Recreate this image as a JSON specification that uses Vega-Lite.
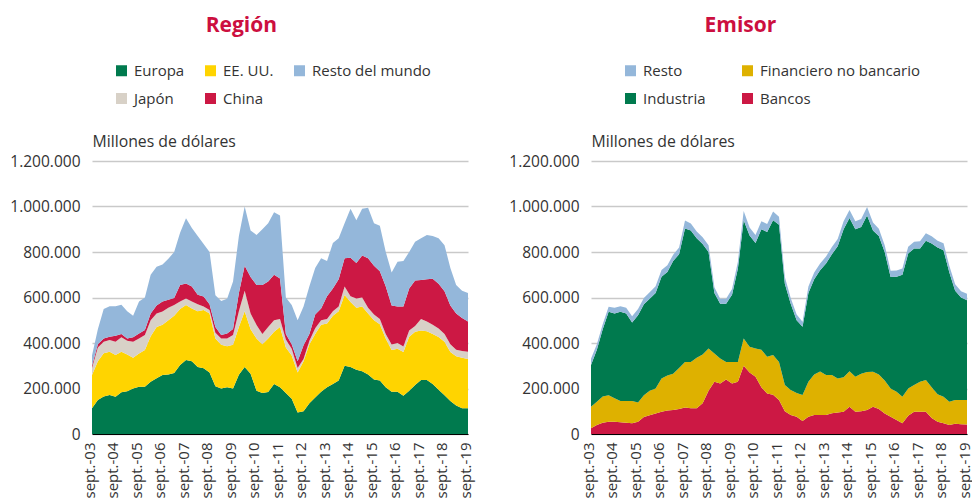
{
  "$schema": "https://vega.github.io/schema/vega-lite/v6.json",
  "padding": {"left": 9, "top": 15, "right": 0, "bottom": 0},
  "bounds": "flush",
  "spacing": 123,
  "config": {
    "locale": {"number": {"decimal": ",", "thousands": ".", "grouping": [3], "currency": ["", " €"]}},
    "font": "Open Sans",
    "view": {"stroke": null},
    "title": {"font": "Open Sans", "fontSize": 21, "fontWeight": "bold", "color": "#cc0f3f", "anchor": "middle", "frame": "bounds", "offset": 27},
    "axis": {"labelFont": "Open Sans", "labelFontSize": 15.5, "labelColor": "#333333", "ticks": false, "grid": false, "domain": false},
    "legend": {"labelFont": "Open Sans", "labelFontSize": 15, "labelColor": "#333333", "labelLimit": 400, "symbolType": "square", "symbolSize": 121, "symbolStrokeWidth": 0, "labelOffset": 5, "padding": 0}
  },
  "datasets": {
    "regionOrder": [{"s":"Europa","o":1},{"s":"EE. UU.","o":2},{"s":"Japón","o":3},{"s":"China","o":4},{"s":"Resto del mundo","o":5}],
    "emisorOrder": [{"s":"Bancos","o":1},{"s":"Financiero no bancario","o":2},{"s":"Industria","o":3},{"s":"Resto","o":4}],
    "region": [
{"d":"2003-09","s":"Europa","v":113000},{"d":"2003-09","s":"EE. UU.","v":146000},{"d":"2003-09","s":"Japón","v":31000},{"d":"2003-09","s":"China","v":10000},{"d":"2003-09","s":"Resto del mundo","v":45000},
{"d":"2003-12","s":"Europa","v":150000},{"d":"2003-12","s":"EE. UU.","v":170000},{"d":"2003-12","s":"Japón","v":60000},{"d":"2003-12","s":"China","v":15000},{"d":"2003-12","s":"Resto del mundo","v":65000},
{"d":"2004-03","s":"Europa","v":165000},{"d":"2004-03","s":"EE. UU.","v":190000},{"d":"2004-03","s":"Japón","v":50000},{"d":"2004-03","s":"China","v":15000},{"d":"2004-03","s":"Resto del mundo","v":130000},
{"d":"2004-06","s":"Europa","v":171000},{"d":"2004-06","s":"EE. UU.","v":191000},{"d":"2004-06","s":"Japón","v":51000},{"d":"2004-06","s":"China","v":15000},{"d":"2004-06","s":"Resto del mundo","v":134000},
{"d":"2004-09","s":"Europa","v":164000},{"d":"2004-09","s":"EE. UU.","v":183000},{"d":"2004-09","s":"Japón","v":59000},{"d":"2004-09","s":"China","v":26000},{"d":"2004-09","s":"Resto del mundo","v":130000},
{"d":"2004-12","s":"Europa","v":183000},{"d":"2004-12","s":"EE. UU.","v":179000},{"d":"2004-12","s":"Japón","v":63000},{"d":"2004-12","s":"China","v":15000},{"d":"2004-12","s":"Resto del mundo","v":128000},
{"d":"2005-03","s":"Europa","v":188000},{"d":"2005-03","s":"EE. UU.","v":162000},{"d":"2005-03","s":"Japón","v":60000},{"d":"2005-03","s":"China","v":10000},{"d":"2005-03","s":"Resto del mundo","v":120000},
{"d":"2005-06","s":"Europa","v":200000},{"d":"2005-06","s":"EE. UU.","v":135000},{"d":"2005-06","s":"Japón","v":70000},{"d":"2005-06","s":"China","v":20000},{"d":"2005-06","s":"Resto del mundo","v":95000},
{"d":"2005-09","s":"Europa","v":208000},{"d":"2005-09","s":"EE. UU.","v":146000},{"d":"2005-09","s":"Japón","v":66000},{"d":"2005-09","s":"China","v":22000},{"d":"2005-09","s":"Resto del mundo","v":140000},
{"d":"2005-12","s":"Europa","v":208000},{"d":"2005-12","s":"EE. UU.","v":161000},{"d":"2005-12","s":"Japón","v":66000},{"d":"2005-12","s":"China","v":22000},{"d":"2005-12","s":"Resto del mundo","v":143000},
{"d":"2006-03","s":"Europa","v":230000},{"d":"2006-03","s":"EE. UU.","v":200000},{"d":"2006-03","s":"Japón","v":70000},{"d":"2006-03","s":"China","v":30000},{"d":"2006-03","s":"Resto del mundo","v":170000},
{"d":"2006-06","s":"Europa","v":245000},{"d":"2006-06","s":"EE. UU.","v":225000},{"d":"2006-06","s":"Japón","v":60000},{"d":"2006-06","s":"China","v":35000},{"d":"2006-06","s":"Resto del mundo","v":170000},
{"d":"2006-09","s":"Europa","v":259000},{"d":"2006-09","s":"EE. UU.","v":221000},{"d":"2006-09","s":"Japón","v":58000},{"d":"2006-09","s":"China","v":44000},{"d":"2006-09","s":"Resto del mundo","v":163000},
{"d":"2006-12","s":"Europa","v":262000},{"d":"2006-12","s":"EE. UU.","v":238000},{"d":"2006-12","s":"Japón","v":55000},{"d":"2006-12","s":"China","v":35000},{"d":"2006-12","s":"Resto del mundo","v":180000},
{"d":"2007-03","s":"Europa","v":268000},{"d":"2007-03","s":"EE. UU.","v":252000},{"d":"2007-03","s":"Japón","v":47000},{"d":"2007-03","s":"China","v":31000},{"d":"2007-03","s":"Resto del mundo","v":202000},
{"d":"2007-06","s":"Europa","v":303000},{"d":"2007-06","s":"EE. UU.","v":247000},{"d":"2007-06","s":"Japón","v":32000},{"d":"2007-06","s":"China","v":73000},{"d":"2007-06","s":"Resto del mundo","v":230000},
{"d":"2007-09","s":"Europa","v":325000},{"d":"2007-09","s":"EE. UU.","v":242000},{"d":"2007-09","s":"Japón","v":29000},{"d":"2007-09","s":"China","v":66000},{"d":"2007-09","s":"Resto del mundo","v":286000},
{"d":"2007-12","s":"Europa","v":320000},{"d":"2007-12","s":"EE. UU.","v":232000},{"d":"2007-12","s":"Japón","v":30000},{"d":"2007-12","s":"China","v":66000},{"d":"2007-12","s":"Resto del mundo","v":257000},
{"d":"2008-03","s":"Europa","v":295000},{"d":"2008-03","s":"EE. UU.","v":245000},{"d":"2008-03","s":"Japón","v":30000},{"d":"2008-03","s":"China","v":42000},{"d":"2008-03","s":"Resto del mundo","v":258000},
{"d":"2008-06","s":"Europa","v":289000},{"d":"2008-06","s":"EE. UU.","v":256000},{"d":"2008-06","s":"Japón","v":15000},{"d":"2008-06","s":"China","v":44000},{"d":"2008-06","s":"Resto del mundo","v":231000},
{"d":"2008-09","s":"Europa","v":270000},{"d":"2008-09","s":"EE. UU.","v":260000},{"d":"2008-09","s":"Japón","v":15000},{"d":"2008-09","s":"China","v":25000},{"d":"2008-09","s":"Resto del mundo","v":230000},
{"d":"2008-12","s":"Europa","v":210000},{"d":"2008-12","s":"EE. UU.","v":210000},{"d":"2008-12","s":"Japón","v":25000},{"d":"2008-12","s":"China","v":25000},{"d":"2008-12","s":"Resto del mundo","v":140000},
{"d":"2009-03","s":"Europa","v":200000},{"d":"2009-03","s":"EE. UU.","v":192000},{"d":"2009-03","s":"Japón","v":28000},{"d":"2009-03","s":"China","v":15000},{"d":"2009-03","s":"Resto del mundo","v":150000},
{"d":"2009-06","s":"Europa","v":205000},{"d":"2009-06","s":"EE. UU.","v":181000},{"d":"2009-06","s":"Japón","v":34000},{"d":"2009-06","s":"China","v":22000},{"d":"2009-06","s":"Resto del mundo","v":153000},
{"d":"2009-09","s":"Europa","v":200000},{"d":"2009-09","s":"EE. UU.","v":192000},{"d":"2009-09","s":"Japón","v":43000},{"d":"2009-09","s":"China","v":27000},{"d":"2009-09","s":"Resto del mundo","v":208000},
{"d":"2009-12","s":"Europa","v":260000},{"d":"2009-12","s":"EE. UU.","v":210000},{"d":"2009-12","s":"Japón","v":70000},{"d":"2009-12","s":"China","v":80000},{"d":"2009-12","s":"Resto del mundo","v":250000},
{"d":"2010-03","s":"Europa","v":295000},{"d":"2010-03","s":"EE. UU.","v":245000},{"d":"2010-03","s":"Japón","v":90000},{"d":"2010-03","s":"China","v":110000},{"d":"2010-03","s":"Resto del mundo","v":260000},
{"d":"2010-06","s":"Europa","v":265000},{"d":"2010-06","s":"EE. UU.","v":195000},{"d":"2010-06","s":"Japón","v":70000},{"d":"2010-06","s":"China","v":160000},{"d":"2010-06","s":"Resto del mundo","v":205000},
{"d":"2010-09","s":"Europa","v":190000},{"d":"2010-09","s":"EE. UU.","v":230000},{"d":"2010-09","s":"Japón","v":59000},{"d":"2010-09","s":"China","v":176000},{"d":"2010-09","s":"Resto del mundo","v":220000},
{"d":"2010-12","s":"Europa","v":180000},{"d":"2010-12","s":"EE. UU.","v":215000},{"d":"2010-12","s":"Japón","v":45000},{"d":"2010-12","s":"China","v":215000},{"d":"2010-12","s":"Resto del mundo","v":245000},
{"d":"2011-03","s":"Europa","v":185000},{"d":"2011-03","s":"EE. UU.","v":235000},{"d":"2011-03","s":"Japón","v":50000},{"d":"2011-03","s":"China","v":200000},{"d":"2011-03","s":"Resto del mundo","v":256000},
{"d":"2011-06","s":"Europa","v":220000},{"d":"2011-06","s":"EE. UU.","v":230000},{"d":"2011-06","s":"Japón","v":50000},{"d":"2011-06","s":"China","v":200000},{"d":"2011-06","s":"Resto del mundo","v":275000},
{"d":"2011-09","s":"Europa","v":205000},{"d":"2011-09","s":"EE. UU.","v":265000},{"d":"2011-09","s":"Japón","v":35000},{"d":"2011-09","s":"China","v":178000},{"d":"2011-09","s":"Resto del mundo","v":277000},
{"d":"2011-12","s":"Europa","v":180000},{"d":"2011-12","s":"EE. UU.","v":200000},{"d":"2011-12","s":"Japón","v":35000},{"d":"2011-12","s":"China","v":25000},{"d":"2011-12","s":"Resto del mundo","v":160000},
{"d":"2012-03","s":"Europa","v":155000},{"d":"2012-03","s":"EE. UU.","v":190000},{"d":"2012-03","s":"Japón","v":30000},{"d":"2012-03","s":"China","v":20000},{"d":"2012-03","s":"Resto del mundo","v":172000},
{"d":"2012-06","s":"Europa","v":95000},{"d":"2012-06","s":"EE. UU.","v":175000},{"d":"2012-06","s":"Japón","v":20000},{"d":"2012-06","s":"China","v":30000},{"d":"2012-06","s":"Resto del mundo","v":180000},
{"d":"2012-09","s":"Europa","v":100000},{"d":"2012-09","s":"EE. UU.","v":220000},{"d":"2012-09","s":"Japón","v":10000},{"d":"2012-09","s":"China","v":60000},{"d":"2012-09","s":"Resto del mundo","v":170000},
{"d":"2012-12","s":"Europa","v":135000},{"d":"2012-12","s":"EE. UU.","v":260000},{"d":"2012-12","s":"Japón","v":15000},{"d":"2012-12","s":"China","v":30000},{"d":"2012-12","s":"Resto del mundo","v":210000},
{"d":"2013-03","s":"Europa","v":160000},{"d":"2013-03","s":"EE. UU.","v":280000},{"d":"2013-03","s":"Japón","v":25000},{"d":"2013-03","s":"China","v":60000},{"d":"2013-03","s":"Resto del mundo","v":205000},
{"d":"2013-06","s":"Europa","v":186000},{"d":"2013-06","s":"EE. UU.","v":294000},{"d":"2013-06","s":"Japón","v":20000},{"d":"2013-06","s":"China","v":52000},{"d":"2013-06","s":"Resto del mundo","v":220000},
{"d":"2013-09","s":"Europa","v":205000},{"d":"2013-09","s":"EE. UU.","v":281000},{"d":"2013-09","s":"Japón","v":19000},{"d":"2013-09","s":"China","v":100000},{"d":"2013-09","s":"Resto del mundo","v":155000},
{"d":"2013-12","s":"Europa","v":220000},{"d":"2013-12","s":"EE. UU.","v":300000},{"d":"2013-12","s":"Japón","v":20000},{"d":"2013-12","s":"China","v":100000},{"d":"2013-12","s":"Resto del mundo","v":200000},
{"d":"2014-03","s":"Europa","v":235000},{"d":"2014-03","s":"EE. UU.","v":305000},{"d":"2014-03","s":"Japón","v":20000},{"d":"2014-03","s":"China","v":120000},{"d":"2014-03","s":"Resto del mundo","v":180000},
{"d":"2014-06","s":"Europa","v":300000},{"d":"2014-06","s":"EE. UU.","v":311000},{"d":"2014-06","s":"Japón","v":37000},{"d":"2014-06","s":"China","v":124000},{"d":"2014-06","s":"Resto del mundo","v":154000},
{"d":"2014-09","s":"Europa","v":295000},{"d":"2014-09","s":"EE. UU.","v":285000},{"d":"2014-09","s":"Japón","v":25000},{"d":"2014-09","s":"China","v":170000},{"d":"2014-09","s":"Resto del mundo","v":215000},
{"d":"2014-12","s":"Europa","v":282000},{"d":"2014-12","s":"EE. UU.","v":273000},{"d":"2014-12","s":"Japón","v":41000},{"d":"2014-12","s":"China","v":156000},{"d":"2014-12","s":"Resto del mundo","v":188000},
{"d":"2015-03","s":"Europa","v":276000},{"d":"2015-03","s":"EE. UU.","v":284000},{"d":"2015-03","s":"Japón","v":40000},{"d":"2015-03","s":"China","v":185000},{"d":"2015-03","s":"Resto del mundo","v":205000},
{"d":"2015-06","s":"Europa","v":262000},{"d":"2015-06","s":"EE. UU.","v":268000},{"d":"2015-06","s":"Japón","v":25000},{"d":"2015-06","s":"China","v":217000},{"d":"2015-06","s":"Resto del mundo","v":223000},
{"d":"2015-09","s":"Europa","v":240000},{"d":"2015-09","s":"EE. UU.","v":260000},{"d":"2015-09","s":"Japón","v":25000},{"d":"2015-09","s":"China","v":215000},{"d":"2015-09","s":"Resto del mundo","v":186000},
{"d":"2015-12","s":"Europa","v":235000},{"d":"2015-12","s":"EE. UU.","v":247000},{"d":"2015-12","s":"Japón","v":23000},{"d":"2015-12","s":"China","v":210000},{"d":"2015-12","s":"Resto del mundo","v":200000},
{"d":"2016-03","s":"Europa","v":205000},{"d":"2016-03","s":"EE. UU.","v":215000},{"d":"2016-03","s":"Japón","v":20000},{"d":"2016-03","s":"China","v":210000},{"d":"2016-03","s":"Resto del mundo","v":151000},
{"d":"2016-06","s":"Europa","v":186000},{"d":"2016-06","s":"EE. UU.","v":183000},{"d":"2016-06","s":"Japón","v":24000},{"d":"2016-06","s":"China","v":172000},{"d":"2016-06","s":"Resto del mundo","v":145000},
{"d":"2016-09","s":"Europa","v":186000},{"d":"2016-09","s":"EE. UU.","v":189000},{"d":"2016-09","s":"Japón","v":25000},{"d":"2016-09","s":"China","v":160000},{"d":"2016-09","s":"Resto del mundo","v":197000},
{"d":"2016-12","s":"Europa","v":168000},{"d":"2016-12","s":"EE. UU.","v":192000},{"d":"2016-12","s":"Japón","v":25000},{"d":"2016-12","s":"China","v":175000},{"d":"2016-12","s":"Resto del mundo","v":200000},
{"d":"2017-03","s":"Europa","v":190000},{"d":"2017-03","s":"EE. UU.","v":238000},{"d":"2017-03","s":"Japón","v":27000},{"d":"2017-03","s":"China","v":185000},{"d":"2017-03","s":"Resto del mundo","v":160000},
{"d":"2017-06","s":"Europa","v":215000},{"d":"2017-06","s":"EE. UU.","v":235000},{"d":"2017-06","s":"Japón","v":25000},{"d":"2017-06","s":"China","v":200000},{"d":"2017-06","s":"Resto del mundo","v":170000},
{"d":"2017-09","s":"Europa","v":237000},{"d":"2017-09","s":"EE. UU.","v":218000},{"d":"2017-09","s":"Japón","v":50000},{"d":"2017-09","s":"China","v":172000},{"d":"2017-09","s":"Resto del mundo","v":183000},
{"d":"2017-12","s":"Europa","v":237000},{"d":"2017-12","s":"EE. UU.","v":215000},{"d":"2017-12","s":"Japón","v":43000},{"d":"2017-12","s":"China","v":185000},{"d":"2017-12","s":"Resto del mundo","v":195000},
{"d":"2018-03","s":"Europa","v":220000},{"d":"2018-03","s":"EE. UU.","v":220000},{"d":"2018-03","s":"Japón","v":40000},{"d":"2018-03","s":"China","v":202000},{"d":"2018-03","s":"Resto del mundo","v":188000},
{"d":"2018-06","s":"Europa","v":195000},{"d":"2018-06","s":"EE. UU.","v":231000},{"d":"2018-06","s":"Japón","v":38000},{"d":"2018-06","s":"China","v":196000},{"d":"2018-06","s":"Resto del mundo","v":200000},
{"d":"2018-09","s":"Europa","v":170000},{"d":"2018-09","s":"EE. UU.","v":236000},{"d":"2018-09","s":"Japón","v":34000},{"d":"2018-09","s":"China","v":188000},{"d":"2018-09","s":"Resto del mundo","v":202000},
{"d":"2018-12","s":"Europa","v":145000},{"d":"2018-12","s":"EE. UU.","v":215000},{"d":"2018-12","s":"Japón","v":35000},{"d":"2018-12","s":"China","v":170000},{"d":"2018-12","s":"Resto del mundo","v":165000},
{"d":"2019-03","s":"Europa","v":125000},{"d":"2019-03","s":"EE. UU.","v":217000},{"d":"2019-03","s":"Japón","v":28000},{"d":"2019-03","s":"China","v":160000},{"d":"2019-03","s":"Resto del mundo","v":125000},
{"d":"2019-06","s":"Europa","v":113000},{"d":"2019-06","s":"EE. UU.","v":222000},{"d":"2019-06","s":"Japón","v":30000},{"d":"2019-06","s":"China","v":145000},{"d":"2019-06","s":"Resto del mundo","v":120000},
{"d":"2019-09","s":"Europa","v":113000},{"d":"2019-09","s":"EE. UU.","v":217000},{"d":"2019-09","s":"Japón","v":32000},{"d":"2019-09","s":"China","v":132000},{"d":"2019-09","s":"Resto del mundo","v":126000}
    ],
    "emisor": [
{"d":"2003-09","s":"Bancos","v":25000},{"d":"2003-09","s":"Financiero no bancario","v":95000},{"d":"2003-09","s":"Industria","v":183000},{"d":"2003-09","s":"Resto","v":28000},
{"d":"2003-12","s":"Bancos","v":40000},{"d":"2003-12","s":"Financiero no bancario","v":102000},{"d":"2003-12","s":"Industria","v":228000},{"d":"2003-12","s":"Resto","v":25000},
{"d":"2004-03","s":"Bancos","v":50000},{"d":"2004-03","s":"Financiero no bancario","v":115000},{"d":"2004-03","s":"Industria","v":295000},{"d":"2004-03","s":"Resto","v":22000},
{"d":"2004-06","s":"Bancos","v":54000},{"d":"2004-06","s":"Financiero no bancario","v":116000},{"d":"2004-06","s":"Industria","v":367000},{"d":"2004-06","s":"Resto","v":22000},
{"d":"2004-09","s":"Bancos","v":54000},{"d":"2004-09","s":"Financiero no bancario","v":103000},{"d":"2004-09","s":"Industria","v":373000},{"d":"2004-09","s":"Resto","v":25000},
{"d":"2004-12","s":"Bancos","v":52000},{"d":"2004-12","s":"Financiero no bancario","v":93000},{"d":"2004-12","s":"Industria","v":392000},{"d":"2004-12","s":"Resto","v":25000},
{"d":"2005-03","s":"Bancos","v":50000},{"d":"2005-03","s":"Financiero no bancario","v":95000},{"d":"2005-03","s":"Industria","v":385000},{"d":"2005-03","s":"Resto","v":25000},
{"d":"2005-06","s":"Bancos","v":47000},{"d":"2005-06","s":"Financiero no bancario","v":98000},{"d":"2005-06","s":"Industria","v":345000},{"d":"2005-06","s":"Resto","v":28000},
{"d":"2005-09","s":"Bancos","v":54000},{"d":"2005-09","s":"Financiero no bancario","v":84000},{"d":"2005-09","s":"Industria","v":384000},{"d":"2005-09","s":"Resto","v":28000},
{"d":"2005-12","s":"Bancos","v":75000},{"d":"2005-12","s":"Financiero no bancario","v":95000},{"d":"2005-12","s":"Industria","v":400000},{"d":"2005-12","s":"Resto","v":28000},
{"d":"2006-03","s":"Bancos","v":82000},{"d":"2006-03","s":"Financiero no bancario","v":108000},{"d":"2006-03","s":"Industria","v":405000},{"d":"2006-03","s":"Resto","v":28000},
{"d":"2006-06","s":"Bancos","v":90000},{"d":"2006-06","s":"Financiero no bancario","v":110000},{"d":"2006-06","s":"Industria","v":420000},{"d":"2006-06","s":"Resto","v":30000},
{"d":"2006-09","s":"Bancos","v":98000},{"d":"2006-09","s":"Financiero no bancario","v":146000},{"d":"2006-09","s":"Industria","v":447000},{"d":"2006-09","s":"Resto","v":30000},
{"d":"2006-12","s":"Bancos","v":103000},{"d":"2006-12","s":"Financiero no bancario","v":154000},{"d":"2006-12","s":"Industria","v":455000},{"d":"2006-12","s":"Resto","v":30000},
{"d":"2007-03","s":"Bancos","v":105000},{"d":"2007-03","s":"Financiero no bancario","v":160000},{"d":"2007-03","s":"Industria","v":495000},{"d":"2007-03","s":"Resto","v":28000},
{"d":"2007-06","s":"Bancos","v":110000},{"d":"2007-06","s":"Financiero no bancario","v":180000},{"d":"2007-06","s":"Industria","v":500000},{"d":"2007-06","s":"Resto","v":30000},
{"d":"2007-09","s":"Bancos","v":116000},{"d":"2007-09","s":"Financiero no bancario","v":201000},{"d":"2007-09","s":"Industria","v":586000},{"d":"2007-09","s":"Resto","v":35000},
{"d":"2007-12","s":"Bancos","v":113000},{"d":"2007-12","s":"Financiero no bancario","v":204000},{"d":"2007-12","s":"Industria","v":578000},{"d":"2007-12","s":"Resto","v":30000},
{"d":"2008-03","s":"Bancos","v":113000},{"d":"2008-03","s":"Financiero no bancario","v":222000},{"d":"2008-03","s":"Industria","v":525000},{"d":"2008-03","s":"Resto","v":30000},
{"d":"2008-06","s":"Bancos","v":135000},{"d":"2008-06","s":"Financiero no bancario","v":215000},{"d":"2008-06","s":"Industria","v":485000},{"d":"2008-06","s":"Resto","v":30000},
{"d":"2008-09","s":"Bancos","v":190000},{"d":"2008-09","s":"Financiero no bancario","v":186000},{"d":"2008-09","s":"Industria","v":424000},{"d":"2008-09","s":"Resto","v":30000},
{"d":"2008-12","s":"Bancos","v":230000},{"d":"2008-12","s":"Financiero no bancario","v":124000},{"d":"2008-12","s":"Industria","v":266000},{"d":"2008-12","s":"Resto","v":25000},
{"d":"2009-03","s":"Bancos","v":222000},{"d":"2009-03","s":"Financiero no bancario","v":110000},{"d":"2009-03","s":"Industria","v":241000},{"d":"2009-03","s":"Resto","v":22000},
{"d":"2009-06","s":"Bancos","v":240000},{"d":"2009-06","s":"Financiero no bancario","v":77000},{"d":"2009-06","s":"Industria","v":256000},{"d":"2009-06","s":"Resto","v":22000},
{"d":"2009-09","s":"Bancos","v":222000},{"d":"2009-09","s":"Financiero no bancario","v":95000},{"d":"2009-09","s":"Industria","v":295000},{"d":"2009-09","s":"Resto","v":25000},
{"d":"2009-12","s":"Bancos","v":230000},{"d":"2009-12","s":"Financiero no bancario","v":87000},{"d":"2009-12","s":"Industria","v":410000},{"d":"2009-12","s":"Resto","v":30000},
{"d":"2010-03","s":"Bancos","v":300000},{"d":"2010-03","s":"Financiero no bancario","v":120000},{"d":"2010-03","s":"Industria","v":520000},{"d":"2010-03","s":"Resto","v":40000},
{"d":"2010-06","s":"Bancos","v":270000},{"d":"2010-06","s":"Financiero no bancario","v":113000},{"d":"2010-06","s":"Industria","v":490000},{"d":"2010-06","s":"Resto","v":35000},
{"d":"2010-09","s":"Bancos","v":252000},{"d":"2010-09","s":"Financiero no bancario","v":124000},{"d":"2010-09","s":"Industria","v":464000},{"d":"2010-09","s":"Resto","v":35000},
{"d":"2010-12","s":"Bancos","v":205000},{"d":"2010-12","s":"Financiero no bancario","v":165000},{"d":"2010-12","s":"Industria","v":530000},{"d":"2010-12","s":"Resto","v":35000},
{"d":"2011-03","s":"Bancos","v":178000},{"d":"2011-03","s":"Financiero no bancario","v":162000},{"d":"2011-03","s":"Industria","v":548000},{"d":"2011-03","s":"Resto","v":35000},
{"d":"2011-06","s":"Bancos","v":172000},{"d":"2011-06","s":"Financiero no bancario","v":175000},{"d":"2011-06","s":"Industria","v":593000},{"d":"2011-06","s":"Resto","v":38000},
{"d":"2011-09","s":"Bancos","v":150000},{"d":"2011-09","s":"Financiero no bancario","v":167000},{"d":"2011-09","s":"Industria","v":603000},{"d":"2011-09","s":"Resto","v":35000},
{"d":"2011-12","s":"Bancos","v":100000},{"d":"2011-12","s":"Financiero no bancario","v":115000},{"d":"2011-12","s":"Industria","v":445000},{"d":"2011-12","s":"Resto","v":30000},
{"d":"2012-03","s":"Bancos","v":83000},{"d":"2012-03","s":"Financiero no bancario","v":110000},{"d":"2012-03","s":"Industria","v":380000},{"d":"2012-03","s":"Resto","v":25000},
{"d":"2012-06","s":"Bancos","v":76000},{"d":"2012-06","s":"Financiero no bancario","v":104000},{"d":"2012-06","s":"Industria","v":320000},{"d":"2012-06","s":"Resto","v":25000},
{"d":"2012-09","s":"Bancos","v":57000},{"d":"2012-09","s":"Financiero no bancario","v":114000},{"d":"2012-09","s":"Industria","v":300000},{"d":"2012-09","s":"Resto","v":22000},
{"d":"2012-12","s":"Bancos","v":76000},{"d":"2012-12","s":"Financiero no bancario","v":154000},{"d":"2012-12","s":"Industria","v":390000},{"d":"2012-12","s":"Resto","v":28000},
{"d":"2013-03","s":"Bancos","v":83000},{"d":"2013-03","s":"Financiero no bancario","v":179000},{"d":"2013-03","s":"Industria","v":418000},{"d":"2013-03","s":"Resto","v":30000},
{"d":"2013-06","s":"Bancos","v":83000},{"d":"2013-06","s":"Financiero no bancario","v":192000},{"d":"2013-06","s":"Industria","v":445000},{"d":"2013-06","s":"Resto","v":30000},
{"d":"2013-09","s":"Bancos","v":83000},{"d":"2013-09","s":"Financiero no bancario","v":176000},{"d":"2013-09","s":"Industria","v":491000},{"d":"2013-09","s":"Resto","v":30000},
{"d":"2013-12","s":"Bancos","v":91000},{"d":"2013-12","s":"Financiero no bancario","v":168000},{"d":"2013-12","s":"Industria","v":531000},{"d":"2013-12","s":"Resto","v":32000},
{"d":"2014-03","s":"Bancos","v":95000},{"d":"2014-03","s":"Financiero no bancario","v":149000},{"d":"2014-03","s":"Industria","v":581000},{"d":"2014-03","s":"Resto","v":32000},
{"d":"2014-06","s":"Bancos","v":98000},{"d":"2014-06","s":"Financiero no bancario","v":152000},{"d":"2014-06","s":"Industria","v":650000},{"d":"2014-06","s":"Resto","v":35000},
{"d":"2014-09","s":"Bancos","v":120000},{"d":"2014-09","s":"Financiero no bancario","v":156000},{"d":"2014-09","s":"Industria","v":674000},{"d":"2014-09","s":"Resto","v":35000},
{"d":"2014-12","s":"Bancos","v":98000},{"d":"2014-12","s":"Financiero no bancario","v":154000},{"d":"2014-12","s":"Industria","v":648000},{"d":"2014-12","s":"Resto","v":35000},
{"d":"2015-03","s":"Bancos","v":100000},{"d":"2015-03","s":"Financiero no bancario","v":165000},{"d":"2015-03","s":"Industria","v":645000},{"d":"2015-03","s":"Resto","v":35000},
{"d":"2015-06","s":"Bancos","v":105000},{"d":"2015-06","s":"Financiero no bancario","v":167000},{"d":"2015-06","s":"Industria","v":688000},{"d":"2015-06","s":"Resto","v":38000},
{"d":"2015-09","s":"Bancos","v":120000},{"d":"2015-09","s":"Financiero no bancario","v":154000},{"d":"2015-09","s":"Industria","v":621000},{"d":"2015-09","s":"Resto","v":35000},
{"d":"2015-12","s":"Bancos","v":110000},{"d":"2015-12","s":"Financiero no bancario","v":152000},{"d":"2015-12","s":"Industria","v":608000},{"d":"2015-12","s":"Resto","v":32000},
{"d":"2016-03","s":"Bancos","v":90000},{"d":"2016-03","s":"Financiero no bancario","v":145000},{"d":"2016-03","s":"Industria","v":565000},{"d":"2016-03","s":"Resto","v":30000},
{"d":"2016-06","s":"Bancos","v":76000},{"d":"2016-06","s":"Financiero no bancario","v":124000},{"d":"2016-06","s":"Industria","v":490000},{"d":"2016-06","s":"Resto","v":28000},
{"d":"2016-09","s":"Bancos","v":61000},{"d":"2016-09","s":"Financiero no bancario","v":125000},{"d":"2016-09","s":"Industria","v":505000},{"d":"2016-09","s":"Resto","v":28000},
{"d":"2016-12","s":"Bancos","v":47000},{"d":"2016-12","s":"Financiero no bancario","v":117000},{"d":"2016-12","s":"Industria","v":536000},{"d":"2016-12","s":"Resto","v":28000},
{"d":"2017-03","s":"Bancos","v":80000},{"d":"2017-03","s":"Financiero no bancario","v":120000},{"d":"2017-03","s":"Industria","v":593000},{"d":"2017-03","s":"Resto","v":30000},
{"d":"2017-06","s":"Bancos","v":98000},{"d":"2017-06","s":"Financiero no bancario","v":117000},{"d":"2017-06","s":"Industria","v":600000},{"d":"2017-06","s":"Resto","v":30000},
{"d":"2017-09","s":"Bancos","v":98000},{"d":"2017-09","s":"Financiero no bancario","v":132000},{"d":"2017-09","s":"Industria","v":585000},{"d":"2017-09","s":"Resto","v":32000},
{"d":"2017-12","s":"Bancos","v":98000},{"d":"2017-12","s":"Financiero no bancario","v":139000},{"d":"2017-12","s":"Industria","v":613000},{"d":"2017-12","s":"Resto","v":32000},
{"d":"2018-03","s":"Bancos","v":70000},{"d":"2018-03","s":"Financiero no bancario","v":135000},{"d":"2018-03","s":"Industria","v":632000},{"d":"2018-03","s":"Resto","v":32000},
{"d":"2018-06","s":"Bancos","v":54000},{"d":"2018-06","s":"Financiero no bancario","v":121000},{"d":"2018-06","s":"Industria","v":645000},{"d":"2018-06","s":"Resto","v":30000},
{"d":"2018-09","s":"Bancos","v":47000},{"d":"2018-09","s":"Financiero no bancario","v":117000},{"d":"2018-09","s":"Industria","v":644000},{"d":"2018-09","s":"Resto","v":30000},
{"d":"2018-12","s":"Bancos","v":40000},{"d":"2018-12","s":"Financiero no bancario","v":102000},{"d":"2018-12","s":"Industria","v":568000},{"d":"2018-12","s":"Resto","v":28000},
{"d":"2019-03","s":"Bancos","v":45000},{"d":"2019-03","s":"Financiero no bancario","v":104000},{"d":"2019-03","s":"Industria","v":481000},{"d":"2019-03","s":"Resto","v":28000},
{"d":"2019-06","s":"Bancos","v":43000},{"d":"2019-06","s":"Financiero no bancario","v":106000},{"d":"2019-06","s":"Industria","v":451000},{"d":"2019-06","s":"Resto","v":28000},
{"d":"2019-09","s":"Bancos","v":42000},{"d":"2019-09","s":"Financiero no bancario","v":107000},{"d":"2019-09","s":"Industria","v":439000},{"d":"2019-09","s":"Resto","v":28000}
    ]
  },
  "hconcat": [
    {
      "title": "Región",
      "width": 376,
      "height": 273,
      "data": {"name": "region"},
      "transform": [{"lookup": "s", "from": {"data": {"name": "regionOrder"}, "key": "s", "fields": ["o"]}}],
      "mark": {"type": "area", "interpolate": "linear"},
      "encoding": {
        "x": {"field": "d", "type": "temporal",
          "scale": {"type": "utc", "domain": [{"year": 2003, "month": "sep", "date": 1, "utc": true}, {"year": 2019, "month": "sep", "date": 1, "utc": true}]},
          "axis": {"title": null, "values": [{"year":2003,"month":"sep","date":1,"utc":true},{"year":2004,"month":"sep","date":1,"utc":true},{"year":2005,"month":"sep","date":1,"utc":true},{"year":2006,"month":"sep","date":1,"utc":true},{"year":2007,"month":"sep","date":1,"utc":true},{"year":2008,"month":"sep","date":1,"utc":true},{"year":2009,"month":"sep","date":1,"utc":true},{"year":2010,"month":"sep","date":1,"utc":true},{"year":2011,"month":"sep","date":1,"utc":true},{"year":2012,"month":"sep","date":1,"utc":true},{"year":2013,"month":"sep","date":1,"utc":true},{"year":2014,"month":"sep","date":1,"utc":true},{"year":2015,"month":"sep","date":1,"utc":true},{"year":2016,"month":"sep","date":1,"utc":true},{"year":2017,"month":"sep","date":1,"utc":true},{"year":2018,"month":"sep","date":1,"utc":true},{"year":2019,"month":"sep","date":1,"utc":true}],
            "labelExpr": "'sept.-' + utcFormat(datum.value, '%y')", "labelAngle": -90, "labelPadding": 8, "labelOffset": -3, "labelFontSize": 15, "labelFlush": false, "labelOverlap": false, "domain": true, "domainColor": "#000000", "domainWidth": 1, "zindex": 1}},
        "y": {"field": "v", "type": "quantitative", "stack": "zero",
          "scale": {"domain": [0, 1200000]},
          "axis": {"values": [0, 200000, 400000, 600000, 800000, 1000000, 1200000], "format": ",d", "grid": true, "gridColor": "#c9c9c9", "gridWidth": 1.5, "labelPadding": 12,
            "title": "Millones de dólares", "titleAngle": 0, "titleAlign": "left", "titleBaseline": "middle", "titleX": 0, "titleY": -20, "titleFont": "Open Sans", "titleFontSize": 15.8, "titleFontWeight": "normal", "titleColor": "#333333"}},
        "color": {"field": "s", "type": "nominal",
          "scale": {"domain": ["Europa", "EE. UU.", "Resto del mundo", "Japón", "China"], "range": ["#007a4e", "#ffd400", "#94b7da", "#d8d1c7", "#cc1844"]},
          "legend": {"title": null, "orient": "none", "legendX": 22, "legendY": -98, "direction": "horizontal", "columns": 3, "columnPadding": 18, "rowPadding": 12}},
        "order": {"field": "o", "type": "quantitative", "sort": "ascending"}
      }
    },
    {
      "title": "Emisor",
      "width": 376,
      "height": 273,
      "data": {"name": "emisor"},
      "transform": [{"lookup": "s", "from": {"data": {"name": "emisorOrder"}, "key": "s", "fields": ["o"]}}],
      "mark": {"type": "area", "interpolate": "linear"},
      "encoding": {
        "x": {"field": "d", "type": "temporal",
          "scale": {"type": "utc", "domain": [{"year": 2003, "month": "sep", "date": 1, "utc": true}, {"year": 2019, "month": "sep", "date": 1, "utc": true}]},
          "axis": {"title": null, "values": [{"year":2003,"month":"sep","date":1,"utc":true},{"year":2004,"month":"sep","date":1,"utc":true},{"year":2005,"month":"sep","date":1,"utc":true},{"year":2006,"month":"sep","date":1,"utc":true},{"year":2007,"month":"sep","date":1,"utc":true},{"year":2008,"month":"sep","date":1,"utc":true},{"year":2009,"month":"sep","date":1,"utc":true},{"year":2010,"month":"sep","date":1,"utc":true},{"year":2011,"month":"sep","date":1,"utc":true},{"year":2012,"month":"sep","date":1,"utc":true},{"year":2013,"month":"sep","date":1,"utc":true},{"year":2014,"month":"sep","date":1,"utc":true},{"year":2015,"month":"sep","date":1,"utc":true},{"year":2016,"month":"sep","date":1,"utc":true},{"year":2017,"month":"sep","date":1,"utc":true},{"year":2018,"month":"sep","date":1,"utc":true},{"year":2019,"month":"sep","date":1,"utc":true}],
            "labelExpr": "'sept.-' + utcFormat(datum.value, '%y')", "labelAngle": -90, "labelPadding": 8, "labelOffset": -3, "labelFontSize": 15, "labelFlush": false, "labelOverlap": false, "domain": true, "domainColor": "#000000", "domainWidth": 1, "zindex": 1}},
        "y": {"field": "v", "type": "quantitative", "stack": "zero",
          "scale": {"domain": [0, 1200000]},
          "axis": {"values": [0, 200000, 400000, 600000, 800000, 1000000, 1200000], "format": ",d", "grid": true, "gridColor": "#c9c9c9", "gridWidth": 1.5, "labelPadding": 12,
            "title": "Millones de dólares", "titleAngle": 0, "titleAlign": "left", "titleBaseline": "middle", "titleX": 0, "titleY": -20, "titleFont": "Open Sans", "titleFontSize": 15.8, "titleFontWeight": "normal", "titleColor": "#333333"}},
        "color": {"field": "s", "type": "nominal",
          "scale": {"domain": ["Resto", "Financiero no bancario", "Industria", "Bancos"], "range": ["#94b7da", "#deb100", "#007a4e", "#cc1844"]},
          "legend": {"title": null, "orient": "none", "legendX": 32, "legendY": -98, "direction": "horizontal", "columns": 2, "columnPadding": 34, "rowPadding": 12}},
        "order": {"field": "o", "type": "quantitative", "sort": "ascending"}
      }
    }
  ],
  "resolve": {"scale": {"color": "independent"}, "legend": {"color": "independent"}}
}
